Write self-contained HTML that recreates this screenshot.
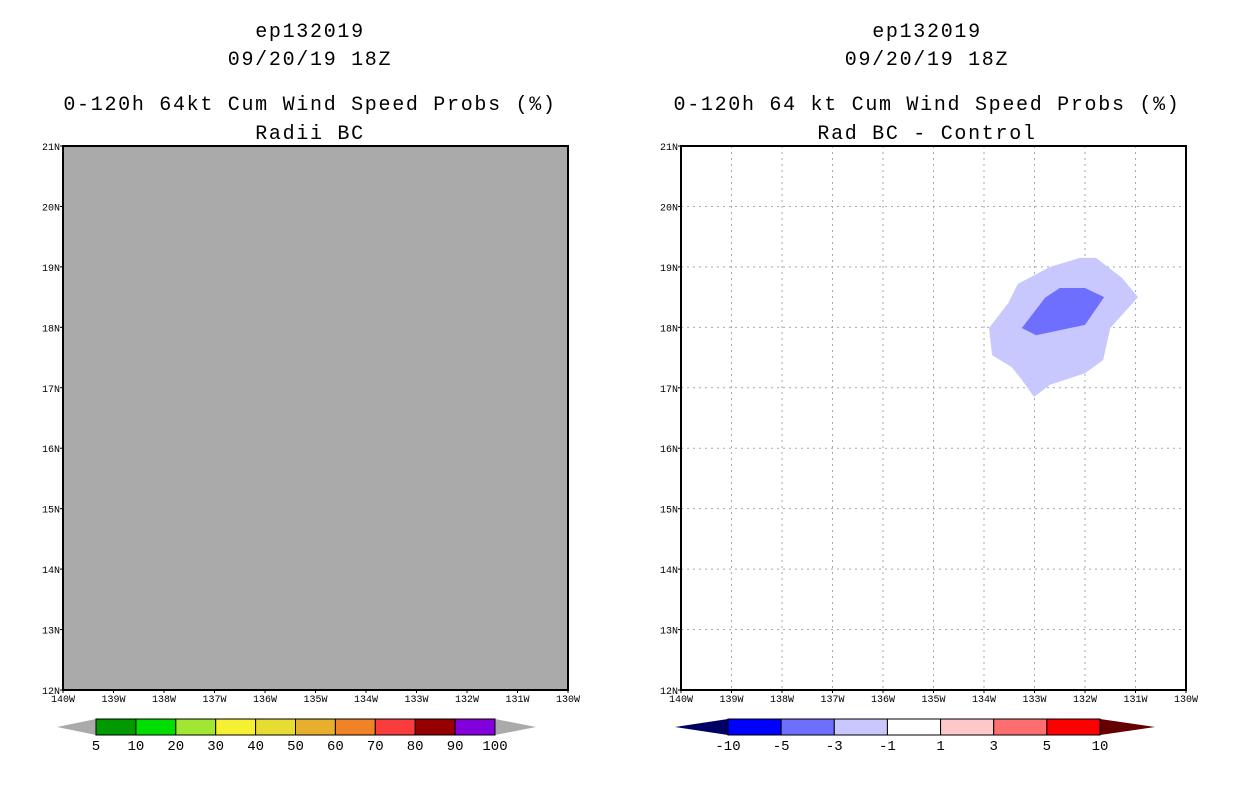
<!DOCTYPE html>
<html><head><meta charset="utf-8"><style>
body{margin:0;background:#fff}
svg{display:block;font-family:"Liberation Mono","DejaVu Sans Mono",monospace}
</style></head><body>
<svg id="s" width="1236" height="800">
<g font-size="20" text-anchor="middle" fill="#000" letter-spacing="1.7">
<text x="310" y="37">ep132019</text><text x="310" y="65">09/20/19 18Z</text>
<text x="310" y="110">0-120h 64kt Cum Wind Speed Probs (%)</text><text x="310" y="139">Radii BC</text></g>
<g font-size="20" text-anchor="middle" fill="#000" letter-spacing="1.7">
<text x="927" y="37">ep132019</text><text x="927" y="65">09/20/19 18Z</text>
<text x="927" y="110">0-120h 64 kt Cum Wind Speed Probs (%)</text><text x="927" y="139">Rad BC - Control</text></g>
<g id="L"></g><g id="R"></g><g id="CB"></g>
</svg>
<script>
const lonTicks=[140,139,138,137,136,135,134,133,132,131,130];
const latTicks=[21,20,19,18,17,16,15,14,13,12];
const lightLon=[-133.01,-132.69,-132.0,-131.64,-131.5,-130.95,-131.27,-131.78,-132.1,-132.69,-133.33,-133.52,-133.9,-133.84,-133.45,-133.25];
const lightLat=[16.85,17.05,17.24,17.46,17.99,18.5,18.82,19.15,19.15,19.0,18.72,18.4,17.99,17.54,17.34,17.13];
const darkLon=[-133.25,-132.97,-132.0,-131.62,-132.0,-132.5,-132.79];
const darkLat=[17.99,17.87,18.04,18.5,18.65,18.65,18.49];
const leftLevels=["5","10","20","30","40","50","60","70","80","90","100"];
const leftColors=["#009900","#00dd00","#a0e632","#f5f032","#e6dc32","#e6af2d","#f08228","#fa3c3c","#960000","#8200dc"];
const rightLevels=["-10","-5","-3","-1","1","3","5","10"];
const rightColors=["#0000ff","#6e6eff","#c8c8ff","#ffffff","#ffc8c8","#ff6e6e","#ff0000"];
const NS="http://www.w3.org/2000/svg";
function mk(p,t,a){const e=document.createElementNS(NS,t);for(const k in a)e.setAttribute(k,a[k]);p.appendChild(e);return e;}
function panel(g,x0,fill,grid){
 const y0=146,w=505,h=544;
 const sx=lon=>x0+(lon+140)/10*w, sy=lat=>y0+(21-lat)/9*h;
 const bg=mk(g,'rect',{x:x0,y:y0,width:w,height:h,fill:fill});
 
 
 if(grid){
  lonTicks.slice(1,-1).forEach(l=>{const e=mk(g,'line',{x1:sx(-l),x2:sx(-l),y1:y0,y2:y0+h,stroke:'#aaa','stroke-dasharray':'2,4'});
   });
  latTicks.slice(1,-1).forEach(l=>{const e=mk(g,'line',{x1:x0,x2:x0+w,y1:sy(l),y2:sy(l),stroke:'#aaa','stroke-dasharray':'2,4'});
   });
  const p1=mk(g,'polygon',{points:lightLon.map((v,i)=>sx(v)+','+sy(lightLat[i])).join(' '),fill:'#c8c8ff'});
  
  const p2=mk(g,'polygon',{points:darkLon.map((v,i)=>sx(v)+','+sy(darkLat[i])).join(' '),fill:'#6e6eff'});
  
 }
 const fr=mk(g,'rect',{x:x0,y:y0,width:w,height:h,fill:'none',stroke:'#000','stroke-width':2});
 
 lonTicks.forEach(l=>{const t=mk(g,'text',{x:sx(-l),y:y0+h+12,'font-size':10,'text-anchor':'middle'});t.textContent=l+'W';
  
  mk(g,'line',{x1:sx(-l),x2:sx(-l),y1:y0+h,y2:y0+h+3,stroke:'#000'});});
 latTicks.forEach(l=>{const t=mk(g,'text',{x:x0-3,y:sy(l)+4,'font-size':10,'text-anchor':'end'});t.textContent=l+'N';
  
  mk(g,'line',{x1:x0-3,x2:x0,y1:sy(l),y2:sy(l),stroke:'#000'});});
}
panel(document.getElementById('L'),63,'#aaaaaa',false);
panel(document.getElementById('R'),681,'#ffffff',true);
function cbar(g,x0,x1,tipL,tipR,cols,labs,lc,rc){
 const y0=719,y1=735,bw=(x1-x0)/cols.length;
 const a=mk(g,'polygon',{points:`${tipL},727 ${x0},${y0} ${x0},${y1}`,fill:lc});
 
 const b=mk(g,'polygon',{points:`${tipR},727 ${x1},${y0} ${x1},${y1}`,fill:rc});
 
 cols.forEach((c,i)=>{const r=mk(g,'rect',{x:x0+i*bw,y:y0,width:bw,height:y1-y0,fill:c,stroke:'#000','stroke-width':1});
  });
 labs.forEach((l,i)=>{const t=mk(g,'text',{x:x0+i*bw,y:750,'font-size':14,'text-anchor':'middle'});t.textContent=l;
  });
}
const cb=document.getElementById('CB');
cbar(cb,96,495,57,536,leftColors,leftLevels,'#aaaaaa','#aaaaaa');
cbar(cb,728,1100,675,1155,rightColors,rightLevels,'#000064','#640000');
</script>
</body></html>
